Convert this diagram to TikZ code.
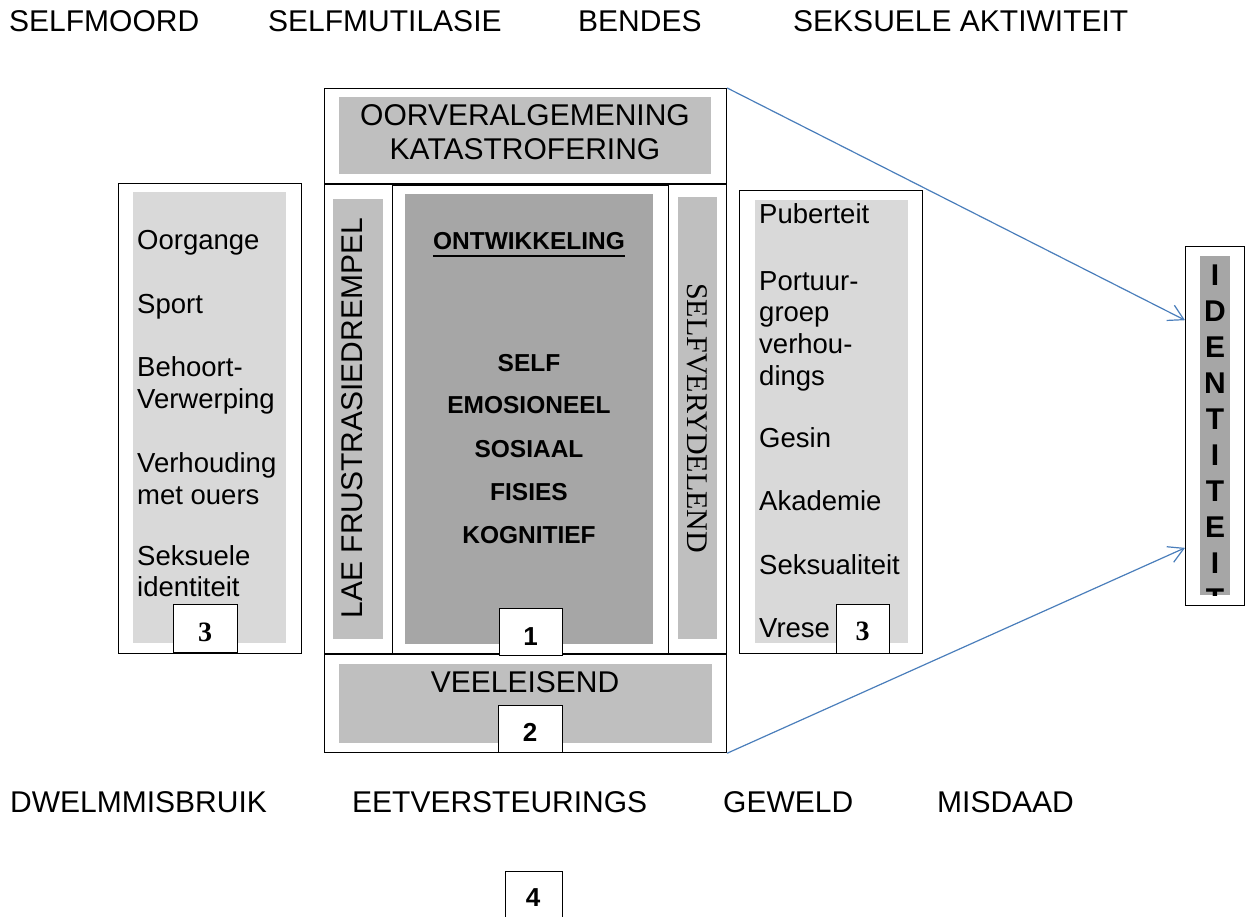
\documentclass[tikz,border=0pt]{standalone}
\usepackage{fontspec}
\setmainfont{Liberation Sans}
\newfontfamily\tnr{Liberation Serif}
\usetikzlibrary{arrows.meta,calc}
\definecolor{lightg}{HTML}{D9D9D9}
\definecolor{midg}{HTML}{BFBFBF}
\definecolor{darkg}{HTML}{A6A6A6}
\definecolor{arrowblue}{HTML}{4A7EBB}
\newcommand\fBig{\fontsize{30}{36}\selectfont}
\newcommand\fList{\fontsize{27.5}{32}\selectfont}
\newcommand\fBold{\fontsize{24.5}{30}\selectfont\bfseries}
\newcommand\fNum{\fontsize{26}{30}\selectfont\bfseries}
\newcommand\fSerNum{\tnr\fontsize{28}{32}\selectfont\bfseries}
\begin{document}
\begin{tikzpicture}[x=1pt,y=-1pt,
  box/.style={draw=black,line width=1.2pt,inner sep=0pt,anchor=north west},
  fillbox/.style={draw=none,inner sep=0pt,anchor=north west},
  numbox/.style={draw=black,fill=white,line width=1.2pt,inner sep=0pt,anchor=north west},
  txt/.style={inner sep=0pt,anchor=base west},
  ctxt/.style={inner sep=0pt,anchor=base},
  link/.style={draw=arrowblue,line width=1.2pt,-{Straight Barb[length=15pt,width=17pt,line width=1.2pt]}}
]
\useasboundingbox (0,0) rectangle (1246,917);

% top row
\node[txt] (t1) at (9,32) {\fBig SELFMOORD};
\node[txt] (t2) at (268,32) {\fBig SELFMUTILASIE};
\node[txt] (t3) at (578,32) {\fBig BENDES};
\node[txt] (t4) at (793,32) {\fBig SEKSUELE AKTIWITEIT};

% bottom row
\node[txt] (b1) at (10,812) {\fBig DWELMMISBRUIK};
\node[txt] (b2) at (352,812) {\fBig EETVERSTEURINGS};
\node[txt] (b3) at (723,812) {\fBig GEWELD};
\node[txt] (b4) at (937,812) {\fBig MISDAAD};

% central outer box
\node[box,minimum width=402pt,minimum height=664pt] (C) at (324,88) {};
\draw[line width=1.2pt] (324,184) -- (726,184);
\draw[line width=1.2pt] (324,654) -- (726,654);

% top section
\node[fillbox,fill=midg,minimum width=372pt,minimum height=77pt] (topg) at (339,97) {};
\node[ctxt] (top1) at (525,126) {\fBig OORVERALGEMENING};
\node[ctxt] (top2) at (525,160) {\fBig KATASTROFERING};

% left column in central box
\node[box,minimum width=68pt,minimum height=470pt] (LC) at (324,184) {};
\node[fillbox,fill=midg,minimum width=50pt,minimum height=440pt] (LCg) at (333,199) {};
\node[ctxt,rotate=90] (lae) at (362,418) {\fBig LAE FRUSTRASIEDREMPEL};

% centre
\node[box,minimum width=276pt,minimum height=469pt] (M) at (392,185) {};
\node[fillbox,fill=darkg,minimum width=248pt,minimum height=450pt] (Mg) at (405,194) {};
\node[ctxt] (ont) at (529,250) {\fBold ONTWIKKELING};
\draw[line width=2pt] ([yshift=-6pt]ont.base west) -- ([yshift=-6pt]ont.base east);
\node[ctxt] (m1) at (529,371) {\fBold SELF};
\node[ctxt] (m2) at (529,413) {\fBold EMOSIONEEL};
\node[ctxt] (m3) at (529,457) {\fBold SOSIAAL};
\node[ctxt] (m4) at (529,500) {\fBold FISIES};
\node[ctxt] (m5) at (529,543) {\fBold KOGNITIEF};
\node[numbox,minimum width=63pt,minimum height=47pt] (n1) at (499,608) {};
\node[ctxt] (n1t) at (530.5,645) {\fNum 1};

% right column in central box
\node[box,minimum width=58pt,minimum height=471pt] (RC) at (668,183) {};
\node[fillbox,fill=midg,minimum width=39pt,minimum height=442pt] (RCg) at (678,197) {};
\node[ctxt,rotate=-90] (sv) at (687,418) {\tnr\fontsize{30}{36}\selectfont SELFVERYDELEND};

% bottom section
\node[fillbox,fill=midg,minimum width=373pt,minimum height=79pt] (botg) at (339,664) {};
\node[ctxt] (vee) at (525,692) {\fBig VEELEISEND};
\node[numbox,minimum width=64pt,minimum height=47pt] (n2) at (498,705) {};
\node[ctxt] (n2t) at (530,741) {\fNum 2};

% left box
\node[box,minimum width=183pt,minimum height=470pt] (L) at (118,183) {};
\node[fillbox,fill=lightg,minimum width=153pt,minimum height=451pt] (Lg) at (133,192) {};
\node[txt] (l1) at (137,249) {\fList Oorgange};
\node[txt] (l2) at (137,313) {\fList Sport};
\node[txt] (l3) at (137,376) {\fList Behoort-};
\node[txt] (l4) at (137,408) {\fList Verwerping};
\node[txt] (l5) at (137,472) {\fList Verhouding};
\node[txt] (l6) at (137,504) {\fList met ouers};
\node[txt] (l7) at (137,565) {\fList Seksuele};
\node[txt] (l8) at (137,596) {\fList identiteit};
\node[numbox,minimum width=64pt,minimum height=48pt] (n3l) at (173,604) {};
\node[ctxt] (n3lt) at (205,641) {\fSerNum 3};

% right box
\node[box,minimum width=183pt,minimum height=463pt] (R) at (739,190) {};
\node[fillbox,fill=lightg,minimum width=153pt,minimum height=443pt] (Rg) at (755,200) {};
\node[txt] (r1) at (759,224) {\fList Puberteit};
\node[txt] (r2) at (759,290) {\fList Portuur-};
\node[txt] (r3) at (759,321) {\fList groep};
\node[txt] (r4) at (759,353) {\fList verhou-};
\node[txt] (r5) at (759,385) {\fList dings};
\node[txt] (r6) at (759,447) {\fList Gesin};
\node[txt] (r7) at (759,510) {\fList Akademie};
\node[txt] (r8) at (759,574) {\fList Seksualiteit};
\node[txt] (r9) at (759,637) {\fList Vrese};
\node[numbox,minimum width=53pt,minimum height=49pt] (n3r) at (836,604) {};
\node[ctxt] (n3rt) at (862.5,640) {\fSerNum 3};

% identity box
\node[box,minimum width=59pt,minimum height=359pt] (ID) at (1185,246) {};
\node[fillbox,fill=darkg,minimum width=30pt,minimum height=339pt] (IDg) at (1200,256) {};
\begin{scope}
\clip (1200,256) rectangle (1230,595);
\foreach \ch [count=\k from 0] in {I,D,E,N,T,I,T,E,I,T}{
  \node[ctxt] (id\k) at (1215,{285+36*\k}) {\fontsize{30}{36}\selectfont\bfseries \ch};
}
\end{scope}

% number 4
\node[numbox,minimum width=57pt,minimum height=60pt] (n4) at (505,871) {};
\node[ctxt] (n4t) at (533,906) {\fNum 4};

% connectors
\coordinate (a1) at ($(ID.north west)!0.206!(ID.south west)$);
\coordinate (a2) at ($(ID.north west)!0.838!(ID.south west)$);
\draw[link] (C.north east) -- (a1);
\draw[link] (C.south east) -- (a2);
\end{tikzpicture}
\end{document}
